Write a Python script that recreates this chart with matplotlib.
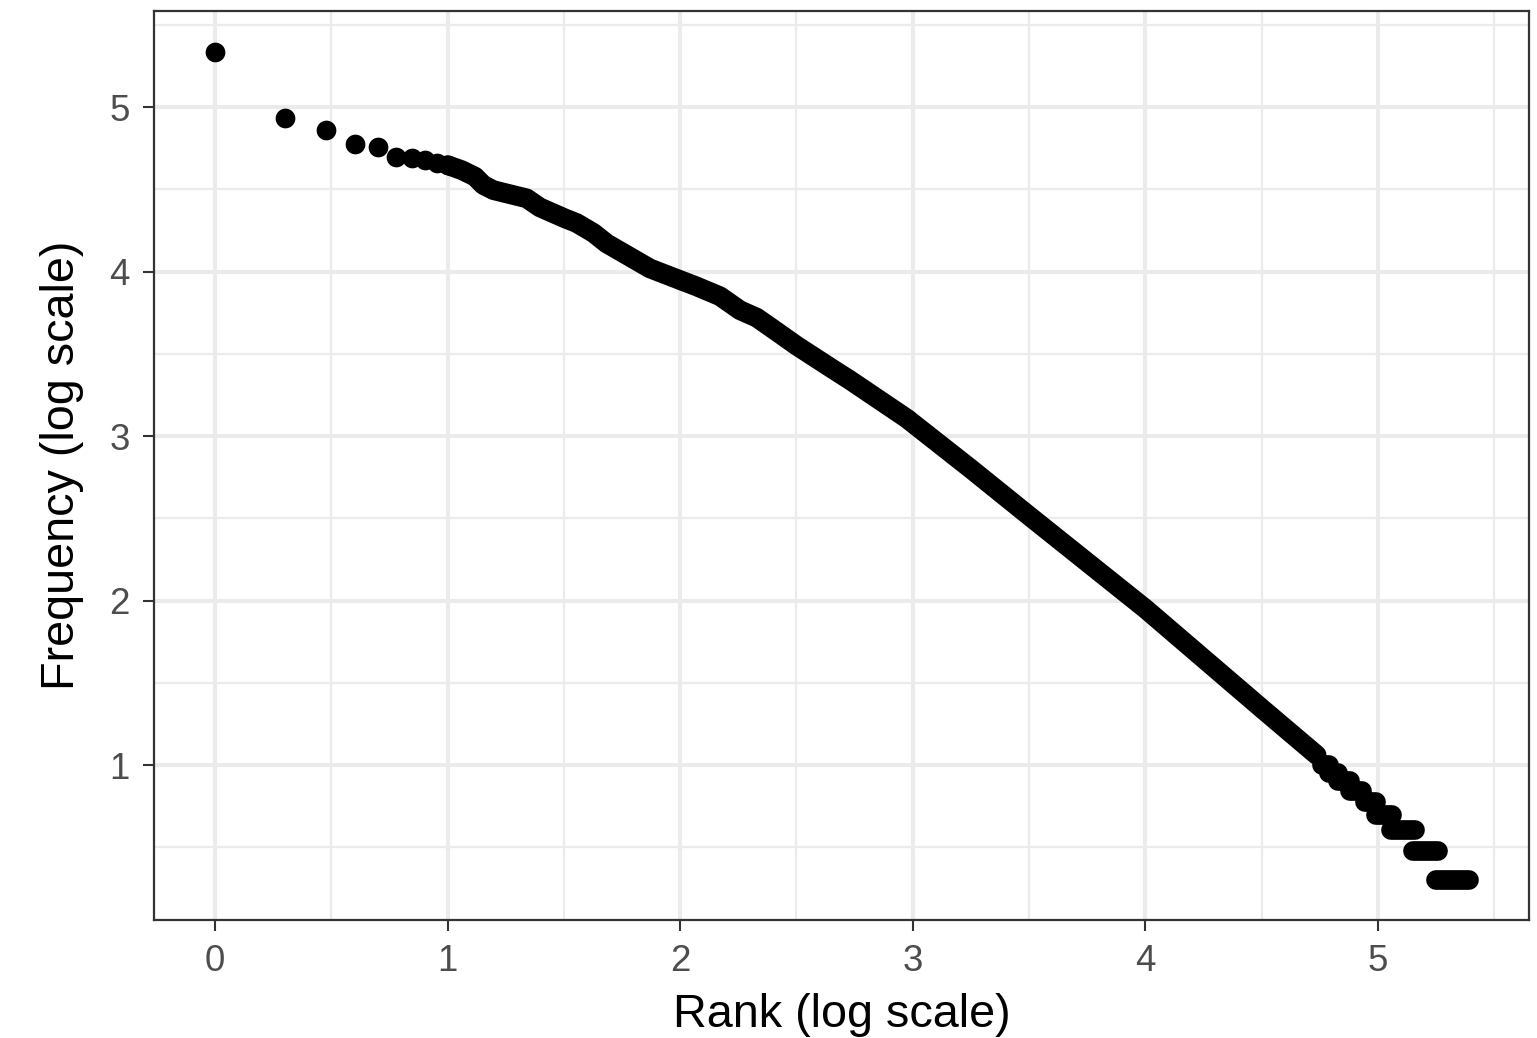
import numpy as np
import matplotlib
matplotlib.use("Agg")
import matplotlib.pyplot as plt
from matplotlib.ticker import MultipleLocator

plt.rcParams['font.family'] = ['Liberation Sans', 'DejaVu Sans']

# top ranks 1..10, drawn as separate dots (log10 frequency)
head_rank = [1, 2, 3, 4, 5, 6, 7, 8, 9, 10]
head_log_freq = [5.336, 4.931, 4.86, 4.773, 4.759, 4.698, 4.688, 4.678, 4.658, 4.647]

# dense middle part of the curve (log10 rank, log10 frequency)
mid_log_rank = [1.0, 1.06, 1.118, 1.154, 1.197, 1.283, 1.34, 1.397, 1.505, 1.555,
                1.627, 1.684, 1.87, 2.0, 2.07, 2.171, 2.257, 2.329, 2.40, 2.50,
                2.658, 2.73, 2.974, 3.25, 3.5, 4.0, 4.5, 4.736]
mid_log_freq = [4.647, 4.617, 4.577, 4.526, 4.495, 4.465, 4.445, 4.39, 4.323, 4.295,
                4.235, 4.171, 4.019, 3.948, 3.91, 3.85, 3.765, 3.72, 3.65, 3.55,
                3.405, 3.34, 3.107, 2.80, 2.515, 1.95, 1.344, 1.061]

# low-frequency tail: words sharing the same count form flat runs of ranks
tail_freq = [10, 9, 8, 7, 6, 5, 4, 3, 2]
tail_log_rank_start = [4.76, 4.79, 4.83, 4.88, 4.945, 4.99, 5.056, 5.152, 5.251]
tail_log_rank_end = [4.79, 4.83, 4.88, 4.93, 4.99, 5.058, 5.158, 5.256, 5.390]

fig = plt.figure(figsize=(15.37, 10.38), dpi=100)
ax = fig.add_axes([0.1002, 0.1137, 0.8946, 0.8757])

dot = 14.2
ax.scatter(np.log10(head_rank), head_log_freq, s=dot ** 2, color='black', zorder=3, linewidths=0)
ax.plot(mid_log_rank, mid_log_freq, color='black', lw=dot,
        solid_capstyle='round', solid_joinstyle='round', zorder=3)
for f, r0, r1 in zip(tail_freq, tail_log_rank_start, tail_log_rank_end):
    ax.plot([r0, r1], [np.log10(f)] * 2, color='black', lw=dot,
            solid_capstyle='round', zorder=3)

ax.set_xlim(-0.262, 5.649)
ax.set_ylim(0.058, 5.584)

ax.xaxis.set_major_locator(MultipleLocator(1))
ax.xaxis.set_minor_locator(MultipleLocator(0.5))
ax.yaxis.set_minor_locator(MultipleLocator(0.5))
ax.set_yticks([1, 2, 3, 4, 5])

ax.grid(which='major', color='#EBEBEB', lw=2.9)
ax.grid(which='minor', color='#EBEBEB', lw=1.6)
ax.set_axisbelow(True)

ax.tick_params(which='major', length=8, width=1.5, color='#333333',
               labelsize=26.4, labelcolor='#4D4D4D', pad=9.6)
ax.tick_params(which='minor', length=0)
for s in ax.spines.values():
    s.set_color('#333333')
    s.set_linewidth(1.6)

ax.set_xlabel('Rank (log scale)', fontsize=33.7, labelpad=10)
ax.set_ylabel('Frequency (log scale)', fontsize=33.7, labelpad=18)

fig.savefig('out.png', dpi=100)
